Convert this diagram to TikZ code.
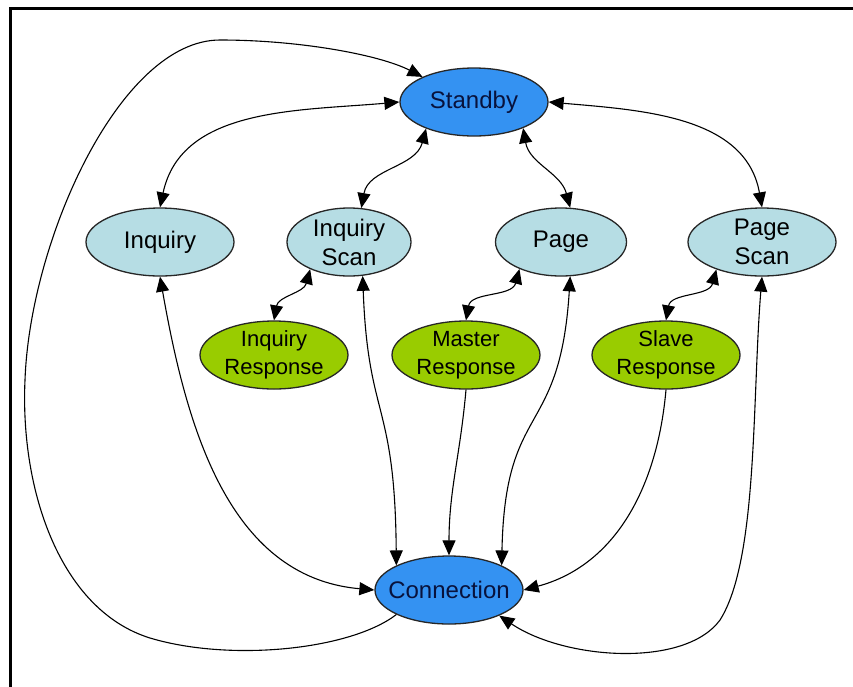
\documentclass[tikz,border=0pt]{standalone}
\usepackage{fontspec}
\setmainfont{Liberation Sans}
\usetikzlibrary{shapes.geometric,arrows.meta}
\definecolor{coreblue}{RGB}{52,146,242}
\definecolor{modeblue}{RGB}{182,221,228}
\definecolor{respgreen}{RGB}{153,204,0}
\definecolor{coretext}{RGB}{8,18,60}
\begin{document}
\begin{tikzpicture}[x=1pt,y=1pt,
  state/.style={ellipse, draw=black!85, line width=1.3pt, minimum width=148pt, minimum height=68pt, inner sep=0pt},
  core/.style={state, fill=coreblue},
  mode/.style={state, fill=modeblue},
  resp/.style={state, fill=respgreen},
  txt/.style={font=\fontsize{24}{29}\selectfont, align=center, inner sep=0pt},
  resptxt/.style={font=\fontsize{22}{28}\selectfont, align=center, inner sep=0pt},
  coretxt/.style={txt, text=coretext},
  link/.style={line width=1.1pt, -{Triangle[length=15pt,width=13pt]}},
  duplex/.style={line width=1.1pt, {Triangle[length=15pt,width=13pt]}-{Triangle[length=15pt,width=13pt]}},
]
\useasboundingbox[fill=white] (0,0) rectangle (853,-686);
% frame
\draw[line width=2.7pt] (10.3,-690) -- (10.3,-8.7) -- (860,-8.7);

% states
\node[core, label={[coretxt]center:Standby}] (sb) at (474,-102) {};
\node[mode, label={[txt]center:Inquiry}] (inq) at (160,-242) {};
\node[mode, minimum width=124pt, label={[txt]center:Inquiry\\Scan}] (isc) at (349,-242) {};
\node[mode, minimum width=131pt, label={[txt]center:Page}] (pg) at (561,-242) {};
\node[mode, label={[txt]center:Page\\Scan}] (psc) at (762,-242) {};
\node[resp, label={[resptxt]center:Inquiry\\Response}] (ir) at (274,-355) {};
\node[resp, label={[resptxt]center:Master\\Response}] (mr) at (466,-355) {};
\node[resp, label={[resptxt]center:Slave\\Response}] (sr) at (666,-355) {};
\node[core, label={[coretxt]center:Connection}] (con) at (449,-590) {};

% standby transitions
\draw[duplex] (inq.north) to[out=78,in=185] (sb.west);
\draw[duplex] (sb.209) to[out=-105,in=80] (isc.70);
\draw[duplex] (sb.-28) to[out=-80,in=105] (pg.75);
\draw[duplex] (sb.east) to[out=-5,in=100] (psc.north);

% connection back to standby
\draw[link] (con.205) .. controls (350,-650) and (230,-662) .. (150,-638)
  .. controls (60,-610) and (20,-490) .. (25,-380)
  .. controls (30,-240) and (120,-40) .. (220,-40)
  .. controls (300,-40) and (380,-55) .. (sb.154);

% sub-states
\draw[duplex] (isc.215) to[out=-105,in=80] (ir.north);
\draw[duplex] (pg.213) to[out=-105,in=80] (mr.north);
\draw[duplex] (psc.211) to[out=-105,in=80] (sr.north);

% transitions into connection
\draw[duplex] (inq.south) to[out=-80,in=175] (con.west);
\draw[duplex] (isc.-68) .. controls (368,-420) and (395,-400) .. (con.155);
\draw[link] (mr.south) to[out=-95,in=90] (con.north);
\draw[duplex] (pg.-75) .. controls (560,-440) and (505,-400) .. (con.25);
\draw[link] (sr.south) to[out=-95,in=15] (con.east);
\draw[duplex] (psc.south) .. controls (752,-400) and (758,-560) .. (720,-620)
  .. controls (685,-668) and (565,-660) .. (con.-27);
\end{tikzpicture}
\end{document}
